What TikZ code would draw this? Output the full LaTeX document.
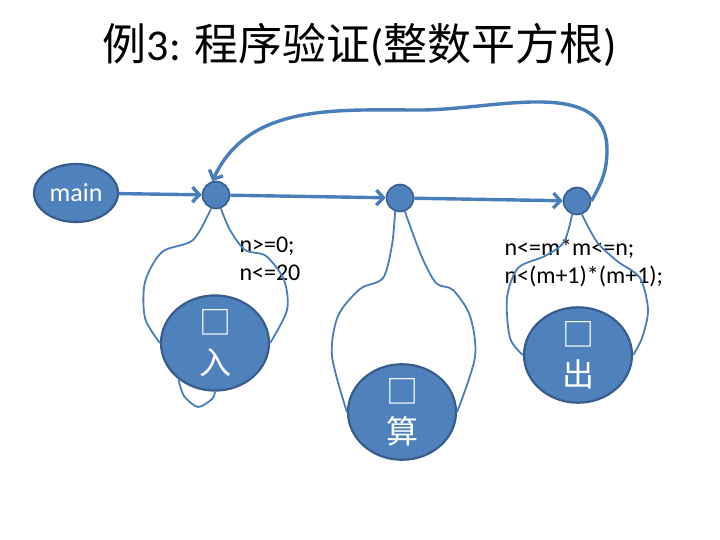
\documentclass[tikz,border=0pt]{standalone}
\usepackage{fontspec}
\setmainfont{Carlito}
\newfontfamily\cjk{Noto Sans CJK SC}
\usetikzlibrary{arrows.meta, shapes.geometric}

\definecolor{nodeblue}{HTML}{4F81BD}
\definecolor{rimblue}{HTML}{385D8A}
\definecolor{lineblue}{HTML}{4A7EBB}

\tikzset{
  blob/.style={ellipse, fill=nodeblue, draw=rimblue, line width=2.2pt, text=white, inner sep=0pt},
  joint/.style={circle, fill=nodeblue, draw=rimblue, line width=1.6pt, minimum size=27pt, inner sep=0pt},
  flow/.style={draw=lineblue, line width=3.4pt, -{Straight Barb[length=7pt, width=15pt]}},
  bulb/.style={draw=lineblue, line width=1.8pt},
  cond/.style={font=\fontsize{24}{28}\selectfont, align=left, anchor=west},
  stage/.style={blob, minimum width=108pt, minimum height=90pt, align=center, font=\cjk\fontsize{32}{40}\selectfont}
}

\begin{document}
\begin{tikzpicture}[x=1pt, y=-1pt]
    \useasboundingbox (0,0) rectangle (720,540);

    \node[font=\fontsize{44}{48}\selectfont] (title) at (360,45) {{\cjk 例}3: {\cjk 程序验证}({\cjk 整数平方根})};

    \node[blob, minimum width=84pt, minimum height=58pt, font=\fontsize{26}{30}\selectfont] (main) at (76,193) {main};
    \node[joint] (j1) at (216,195) {};
    \node[joint] (j2) at (400,198) {};
    \node[joint] (j3) at (577,201) {};

    \node[stage] (input) at (215,343) {□\\入};
    \node[stage] (compute) at (402,412) {□\\算};
    \node[stage] (output) at (578,355) {□\\出};

    \node[cond] (pre) at (236,259) {n>=0;\\n<=20};
    \node[cond] (post) at (501,263) {n<=m*m<=n;\\n<(m+1)*(m+1);};

    % main line
    \draw[flow] (main) -- (j1);
    \draw[flow] (j1) -- (j2);
    \draw[flow] (j2) -- (j3);

    % back edge
    \coordinate (turn) at (607,150);
    \coordinate (top) at (420,110);
    \draw[flow] (j3.east) to[out=60, in=-90] (turn) to[out=90, in=0] (top) to[out=180, in=65] (j1.105);

    % bulbs
    \draw[bulb] plot[smooth] coordinates {(j1.-110) (193,240) (162,252) (145,282) (145,318) (input.west)};
    \draw[bulb] plot[smooth] coordinates {(j1.-70) (230,230) (245,250) (266,256) (284,280) (287,310) (input.east)};
    \draw[bulb] plot[smooth] coordinates {(input.225) (184,396) (198,407) (212,399) (input.south)};

    \draw[bulb] plot[smooth] coordinates {(j2.-110) (392,245) (383,278) (360,289) (338,316) (332,356) (compute.west)};
    \draw[bulb] plot[smooth] coordinates {(j2.-70) (421,255) (436,283) (453,290) (470,316) (475,357) (compute.east)};

    \draw[bulb] plot[smooth] coordinates {(j3.-110) (564,242) (545,256) (518,268) (507,298) (510,338) (output.west)};
    \draw[bulb] plot[smooth] coordinates {(j3.-70) (597,242) (617,261) (640,278) (648,310) (642,338) (output.east)};
\end{tikzpicture}
\end{document}
